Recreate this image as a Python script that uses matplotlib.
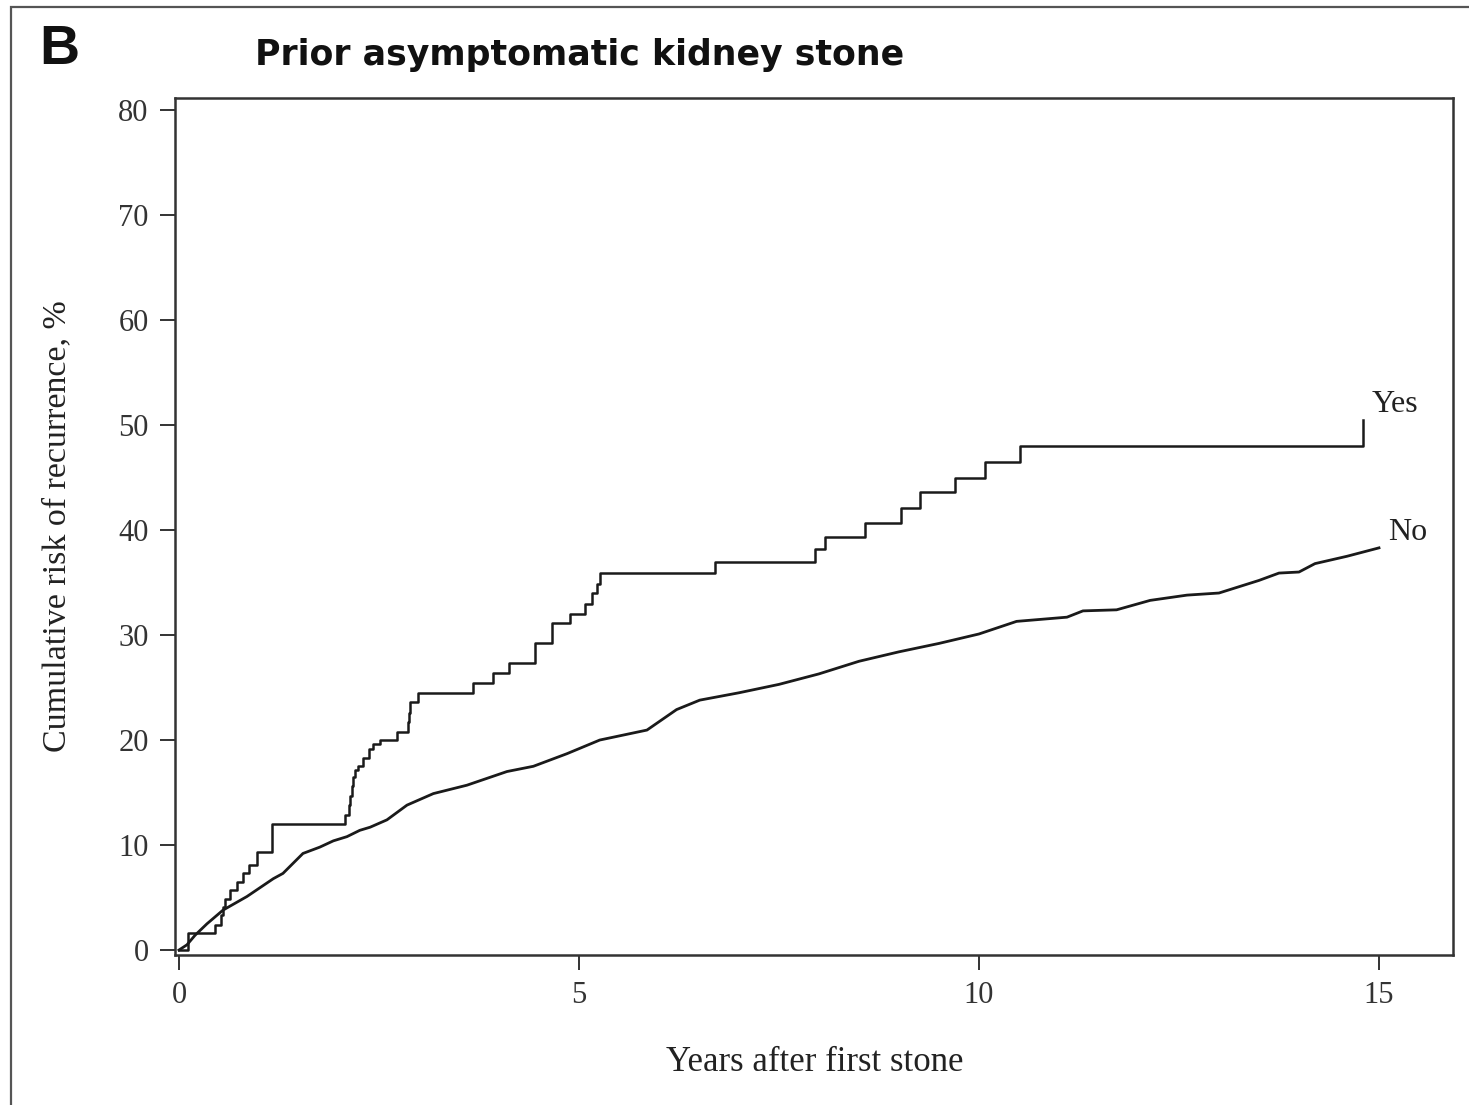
"""
Cumulative risk of kidney stone recurrence, by prior asymptomatic stone.
"""
import matplotlib
matplotlib.use('Agg')
import matplotlib.pyplot as plt
from matplotlib.patches import Rectangle

# "Yes" group: step curve (event time in years, cumulative risk % after the step)
yes_years = [0, 0.11, 0.45, 0.53, 0.55, 0.57, 0.64, 0.72, 0.8, 0.88, 0.98, 1.16,
             2.08, 2.12, 2.14, 2.16, 2.18, 2.2, 2.24, 2.3, 2.37, 2.42, 2.51, 2.72,
             2.86, 2.87, 2.89, 2.99, 3.68, 3.93, 4.12, 4.45, 4.66, 4.89, 5.07, 5.16,
             5.22, 5.26, 6.7, 7.95, 8.08, 8.58, 9.03, 9.26, 9.7, 10.08, 10.51, 14.8]
yes_risk = [0, 1.6, 2.4, 3.3, 4.1, 4.9, 5.7, 6.5, 7.3, 8.1, 9.3, 12.0,
            12.9, 13.8, 14.7, 15.6, 16.5, 17.1, 17.5, 18.3, 19.1, 19.6, 20.0, 20.8,
            21.7, 22.6, 23.6, 24.5, 25.4, 26.4, 27.3, 29.2, 31.1, 32.0, 33.0, 34.0,
            34.9, 35.9, 37.0, 38.2, 39.3, 40.7, 42.1, 43.6, 45.0, 46.5, 48.0, 50.5]

# "No" group: many small steps, read as a traced line
no_years = [0, 0.1, 0.2, 0.35, 0.55, 0.85, 1.18, 1.3, 1.55, 1.76, 1.93, 2.1, 2.26,
            2.39, 2.6, 2.85, 3.18, 3.6, 4.1, 4.43, 4.85, 5.26, 5.85, 6.22, 6.51,
            7.0, 7.5, 8.0, 8.5, 9.0, 9.5, 10.0, 10.47, 11.1, 11.3, 11.72, 12.14,
            12.6, 13.0, 13.5, 13.75, 14.0, 14.2, 14.6, 15.0]
no_risk = [0, 0.5, 1.4, 2.5, 3.8, 5.1, 6.8, 7.3, 9.2, 9.8, 10.4, 10.8, 11.4,
           11.7, 12.4, 13.8, 14.9, 15.7, 17.0, 17.5, 18.7, 20.0, 20.95, 22.9, 23.8,
           24.5, 25.3, 26.3, 27.5, 28.4, 29.2, 30.1, 31.3, 31.7, 32.3, 32.4, 33.3,
           33.8, 34.0, 35.2, 35.9, 36.0, 36.8, 37.5, 38.3]

x_ticks = [0, 5, 10, 15]
y_ticks = [0, 10, 20, 30, 40, 50, 60, 70, 80]

serif = 'Liberation Serif'
grey = '#333333'

fig = plt.figure(figsize=(14.69, 11.05), dpi=100)
ax = fig.add_axes([0.1191, 0.1357, 0.870, 0.7756])

ax.step(yes_years, yes_risk, where='post', color='#1a1a1a', lw=1.8)
ax.plot(no_years, no_risk, color='#1a1a1a', lw=2.0)

ax.set_xlim(-0.05, 15.925)
ax.set_ylim(-0.476, 81.14)
ax.set_xticks(x_ticks)
ax.set_yticks(y_ticks)
ax.tick_params(direction='out', length=11, width=1.4, colors=grey,
               labelsize=22, pad=8)
for lab in ax.get_xticklabels() + ax.get_yticklabels():
    lab.set_family(serif)
for sp in ax.spines.values():
    sp.set_color(grey)
    sp.set_linewidth(1.8)

ax.set_xlabel('Years after first stone', family=serif, fontsize=25, color='#222222', va='center')
ax.set_ylabel('Cumulative risk of recurrence, %', family=serif, fontsize=24.5, color='#222222', va='center')
ax.xaxis.set_label_coords(0.5008, -0.1249)
ax.yaxis.set_label_coords(-0.0923, 0.5)

ax.text(14.91, 52.0, 'Yes', family=serif, fontsize=23, color='#222222', ha='left', va='center')
ax.text(15.11, 39.8, 'No', family=serif, fontsize=23, color='#222222', ha='left', va='center')

fig.text(0.1736, 0.950, 'Prior asymptomatic kidney stone', fontsize=25, fontweight='bold',
         family='DejaVu Sans', color='#111111', ha='left', va='center')
fig.text(0.027, 0.955, 'B', fontsize=40, fontweight='bold', family='Liberation Sans',
         color='#111111', ha='left', va='center')

# panel frame, runs off the right and bottom edges like the source
fig.patches.append(Rectangle((11 / 1469, -0.1), 1.2, 1.1 - 7 / 1105, transform=fig.transFigure,
                             fill=False, edgecolor='#555555', lw=1.6))

fig.savefig('out.png', dpi=100)
